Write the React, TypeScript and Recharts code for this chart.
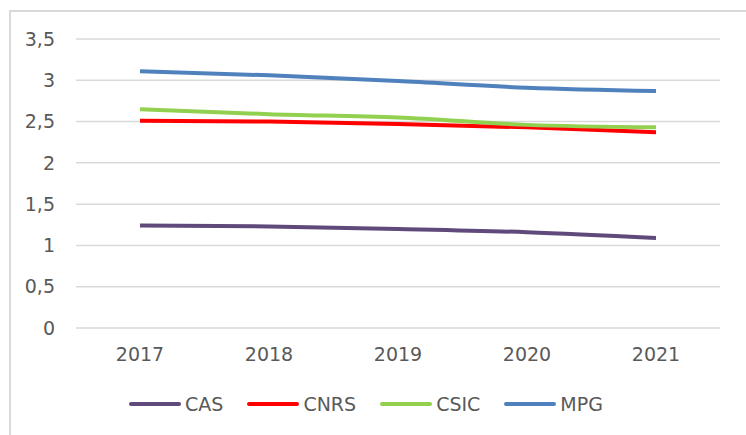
import React from "react";
import { LineChart, Line, XAxis, YAxis, CartesianGrid, Legend } from "recharts";

const years = ["2017", "2018", "2019", "2020", "2021"];
const cas = [1.24, 1.23, 1.2, 1.16, 1.09];
const cnrs = [2.51, 2.5, 2.47, 2.43, 2.37];
const csic = [2.65, 2.59, 2.55, 2.46, 2.43];
const mpg = [3.11, 3.06, 2.99, 2.91, 2.87];
const yTicks = [0, 0.5, 1, 1.5, 2, 2.5, 3, 3.5];

const series = [
  { key: "CAS", values: cas, color: "#604a7b" },
  { key: "CNRS", values: cnrs, color: "#ff0000" },
  { key: "CSIC", values: csic, color: "#92d050" },
  { key: "MPG", values: mpg, color: "#4f81bd" },
];

const data = years.map((year, i) => {
  const row: Record<string, string | number> = { year };
  series.forEach((s) => {
    row[s.key] = s.values[i];
  });
  return row;
});

const font = "'DejaVu Sans', sans-serif";
const textColor = "#595959";

const LegendContent = () => (
  <div
    style={{
      height: 30,
      display: "flex",
      justifyContent: "center",
      alignItems: "center",
      gap: 24,
      fontFamily: font,
      fontSize: 19,
      color: textColor,
      paddingLeft: 12,
    }}
  >
    {series.map((s) => (
      <div key={s.key} style={{ display: "flex", alignItems: "center" }}>
        <svg width={52} height={8} style={{ marginRight: 4 }}>
          <line x1={2} y1={4} x2={50} y2={4} stroke={s.color} strokeWidth={4} strokeLinecap="round" />
        </svg>
        <span>{s.key}</span>
      </div>
    ))}
  </div>
);

export default function App() {
  return (
    <div
      style={{
        position: "absolute",
        left: 0,
        top: 0,
        width: 746,
        height: 435,
        overflow: "hidden",
        background: "#fff",
      }}
    >
      <div
        style={{
          position: "absolute",
          left: 9,
          top: 10,
          width: 800,
          height: 500,
          border: "2px solid #d9d9d9",
        }}
      />
      <div style={{ position: "absolute", left: 0, top: 0 }}>
        <LineChart
          width={746}
          height={435}
          data={data}
          margin={{ top: 39, right: 26, bottom: 16, left: 0 }}
        >
          <CartesianGrid vertical={false} stroke="#d9d9d9" strokeWidth={1.5} />
          <XAxis
            dataKey="year"
            axisLine={false}
            tickLine={false}
            tickSize={0}
            tickMargin={20}
            height={61}
            padding={{ left: 64, right: 64 }}
            tick={{ fill: textColor, fontSize: 19, fontFamily: font }}
          />
          <YAxis
            domain={[0, 3.5]}
            ticks={yTicks}
            width={76}
            axisLine={false}
            tickLine={false}
            tickSize={0}
            tickMargin={21}
            tickFormatter={(v: number) => String(v).replace(".", ",")}
            tick={{ fill: textColor, fontSize: 19, fontFamily: font }}
          />
          <Legend verticalAlign="bottom" content={<LegendContent />} />
          {series.map((s) => (
            <Line
              key={s.key}
              type="monotone"
              dataKey={s.key}
              stroke={s.color}
              strokeWidth={4}
              dot={false}
              isAnimationActive={false}
            />
          ))}
        </LineChart>
      </div>
    </div>
  );
}
